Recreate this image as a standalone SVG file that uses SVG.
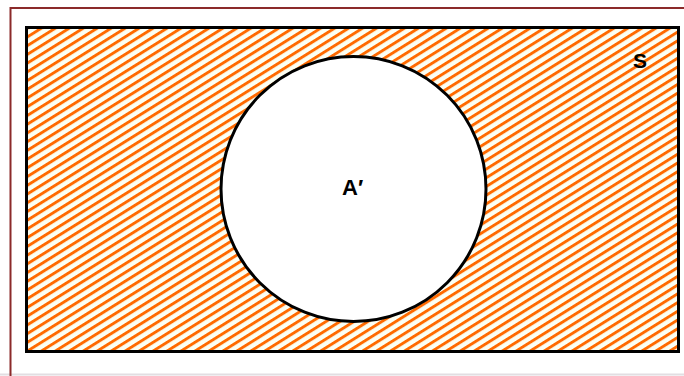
<svg xmlns="http://www.w3.org/2000/svg" width="684" height="376" viewBox="0 0 684 376">
  <style>
    .lbl { font-family: "Liberation Sans", Arial, sans-serif; font-weight: bold; fill: #000; }
  </style>
  <defs>
    <pattern id="hatch" patternUnits="userSpaceOnUse" width="7.4" height="7.4" patternTransform="rotate(-32)">
      <rect x="0" y="0" width="7.4" height="7.4" fill="#FBFFF4"/>
      <rect x="0" y="0" width="7.4" height="2.9" fill="#FF6A00"/>
    </pattern>
  </defs>
  <rect x="0" y="0" width="684" height="376" fill="#FFFFFF"/>
  <g id="frame">
    <line x1="0" y1="374.5" x2="684" y2="374.5" stroke="#E2DEE2" stroke-width="2"/>
    <path d="M10.5 376 V8 H684" fill="none" stroke="#8B2A2A" stroke-width="2"/>
  </g>
  <g id="S">
    <rect x="26.5" y="27.5" width="652" height="324" fill="url(#hatch)" stroke="#000" stroke-width="3"/>
    <text class="lbl" x="640" y="68" font-size="21" text-anchor="middle">S</text>
  </g>
  <g id="A">
    <circle cx="353.5" cy="189" r="132.5" fill="#FFFFFF" stroke="#000" stroke-width="3"/>
    <text class="lbl" x="342" y="194.5" font-size="22">A′</text>
  </g>
</svg>
